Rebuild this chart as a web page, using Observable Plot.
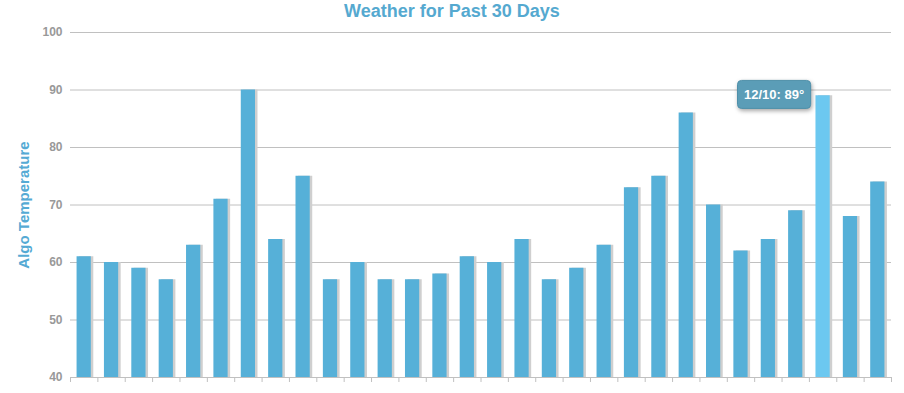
<!DOCTYPE html>
<html><head><meta charset="utf-8">
<script src="https://cdn.jsdelivr.net/npm/d3@7"></script>
<script src="https://cdn.jsdelivr.net/npm/@observablehq/plot@0.6"></script>
<style>
body{margin:0;background:#fff;font-family:"Liberation Sans",Arial,sans-serif;}
#wrap{position:relative;width:904px;height:393px;}
#title{position:absolute;top:0;left:0;width:904px;text-align:center;font-weight:bold;font-size:18px;line-height:22px;color:#55a9d0;z-index:2;}
</style></head><body>
<div id="wrap"><div id="title">Weather for Past 30 Days</div></div>
<script>
const dates = ["11/13","11/14","11/15","11/16","11/17","11/18","11/19","11/20","11/21","11/22",
  "11/23","11/24","11/25","11/26","11/27","11/28","11/29","11/30","12/01","12/02",
  "12/03","12/04","12/05","12/06","12/07","12/08","12/09","12/10","12/11","12/12"];
const temps = [61,60,59,57,63,71,90,64,75,57,60,57,57,58,61,60,64,57,59,63,73,75,86,70,62,64,69,89,68,74];
const yTicks = [40,50,60,70,80,90,100];
const highlightDate = "12/10";
const yTitle = "Algo Temperature";

const data = dates.map((d,i)=>({date:d,temp:temps[i]}));
const tipData = data.filter(d=>d.date===highlightDate);

const W=904,H=393,mL=70,mR=13,mT=32,mB=16;
const step=(W-mL-mR)/dates.length;

const plot = Plot.plot({
  width:W,height:H,marginLeft:mL,marginRight:mR,marginTop:mT,marginBottom:mB,
  style:{fontFamily:"'Liberation Sans',Arial,sans-serif",background:"white",overflow:"visible"},
  x:{type:"band",domain:dates,paddingInner:0.48,paddingOuter:0.24,round:false,axis:null},
  y:{domain:[40,100],axis:null},
  color:{type:"identity"},
  marks:[
    Plot.gridY(yTicks,{stroke:"#c0c0c0",strokeOpacity:1}),
    Plot.axisY(yTicks,{tickSize:0,tickPadding:8,fill:"#999",fontWeight:"bold",fontSize:12,label:null}),
    Plot.text([yTitle],{frameAnchor:"left",textAnchor:"middle",rotate:-90,dx:-46,fill:"#55aad4",fontWeight:"bold",fontSize:15}),
    Plot.axisX(dates,{tickSize:5,tickFormat:()=>"",stroke:"#c0c0c0",dx:-step/2,label:null}),
    Plot.axisX([dates[dates.length-1]],{tickSize:5,tickFormat:()=>"",stroke:"#c0c0c0",dx:step/2,label:null}),
    Plot.barY(data,{x:"date",y:"temp",fill:"#cfcfcf",dx:2.5,clip:true}),
    Plot.barY(data,{x:"date",y:"temp",fill:d=>d.date===highlightDate?"#6cc8f0":"#56b0d8",clip:true}),
    Plot.text(tipData,{x:"date",y:"temp",text:d=>`${d.date}: ${d.temp}°`,dx:-49,dy:-1,fill:"white",fontWeight:"bold",fontSize:13,ariaLabel:"tooltip"})
  ]
});
document.getElementById("wrap").appendChild(plot);

// rounded box behind tooltip text, sized from the rendered text
plot.querySelectorAll("text").forEach(t=>{
  if(!t.textContent.includes("°")) return;
  const b=t.getBBox();
  const r=document.createElementNS("http://www.w3.org/2000/svg","rect");
  const px=6.5, py=7.5;
  r.setAttribute("x",b.x-px); r.setAttribute("y",b.y-py+1);
  r.setAttribute("width",b.width+2*px); r.setAttribute("height",b.height+2*py-2);
  r.setAttribute("rx",4);
  r.setAttribute("fill","#5b9db7");
  r.setAttribute("stroke","#4f90aa");
  r.setAttribute("style","filter:drop-shadow(1px 2px 2px rgba(0,0,0,0.35))");
  if(t.getAttribute("transform")) r.setAttribute("transform",t.getAttribute("transform"));
  t.parentNode.insertBefore(r,t);
});
</script>
</body></html>
